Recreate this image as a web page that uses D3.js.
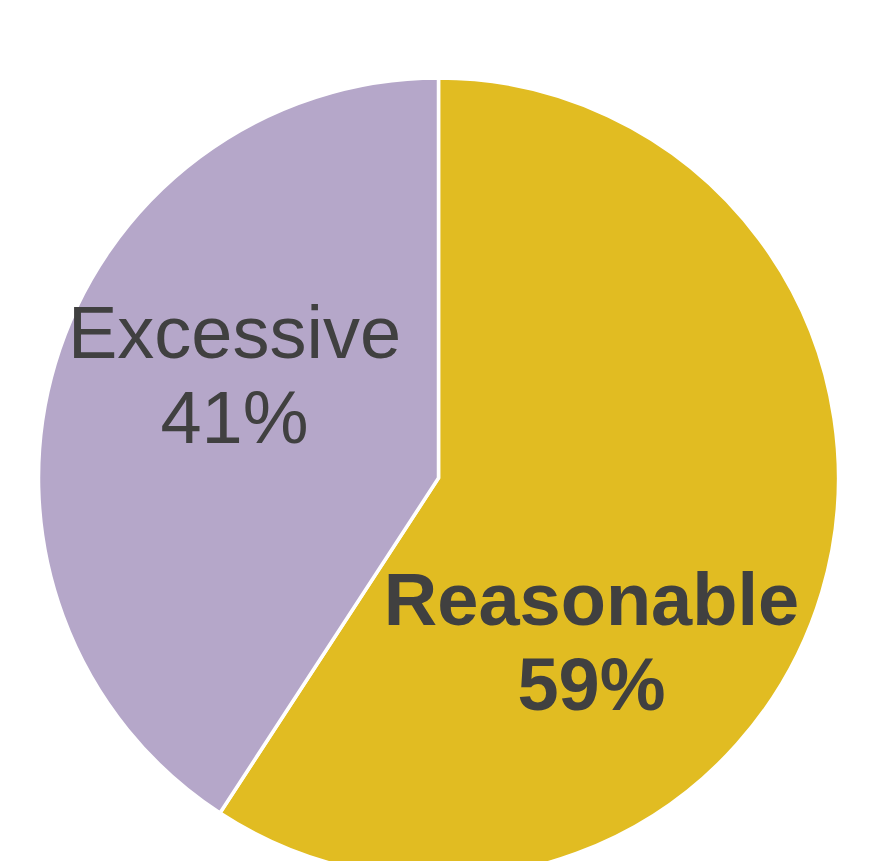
<!DOCTYPE html>
<html>
<head>
<meta charset="utf-8">
<script src="https://cdn.jsdelivr.net/npm/d3@7"></script>
<style>
  html, body { margin: 0; padding: 0; background: #fff; overflow: hidden; }
</style>
</head>
<body>
<div id="chart"></div>
<script>
// data (shares, labels are rounded)
const categories = ["Reasonable", "Excessive"]
const shares = [59.2, 40.8]
const colors = ["#E1BC22", "#B5A7C9"]

// layout
const width = 885, height = 861
const cx = 438.5, cy = 478, radius = 400

// label placement relative to pie centre (first baseline), per slice
const labelOffsets = [[153, 147], [-204, -120]]
const labelWeights = ["bold", "normal"]

const svg = d3.select("#chart").append("svg")
    .attr("width", width)
    .attr("height", height)

const g = svg.append("g")
    .attr("transform", `translate(${cx},${cy})`)

const data = categories.map((c, i) => ({ name: c, value: shares[i], color: colors[i] }))

const pie = d3.pie()
    .sort(null)
    .value(d => d.value)

const arc = d3.arc()
    .innerRadius(0)
    .outerRadius(radius)

const arcs = pie(data)

g.selectAll("path")
    .data(arcs)
    .join("path")
    .attr("d", arc)
    .attr("fill", d => d.data.color)
    .attr("stroke", "#fff")
    .attr("stroke-width", 3.5)
    .attr("stroke-linejoin", "miter")

// labels: name on first line, percentage below
const labels = g.selectAll("text")
    .data(arcs)
    .join("text")
    .attr("text-anchor", "middle")
    .attr("font-family", "'Liberation Sans', Arial, sans-serif")
    .attr("font-size", 74)
    .attr("fill", "#404040")
    .attr("font-weight", (d, i) => labelWeights[i])

labels.append("tspan")
    .attr("x", (d, i) => labelOffsets[i][0])
    .attr("y", (d, i) => labelOffsets[i][1])
    .text(d => d.data.name)

labels.append("tspan")
    .attr("x", (d, i) => labelOffsets[i][0])
    .attr("dy", 85)
    .text(d => Math.round(d.data.value) + "%")
</script>
</body>
</html>
